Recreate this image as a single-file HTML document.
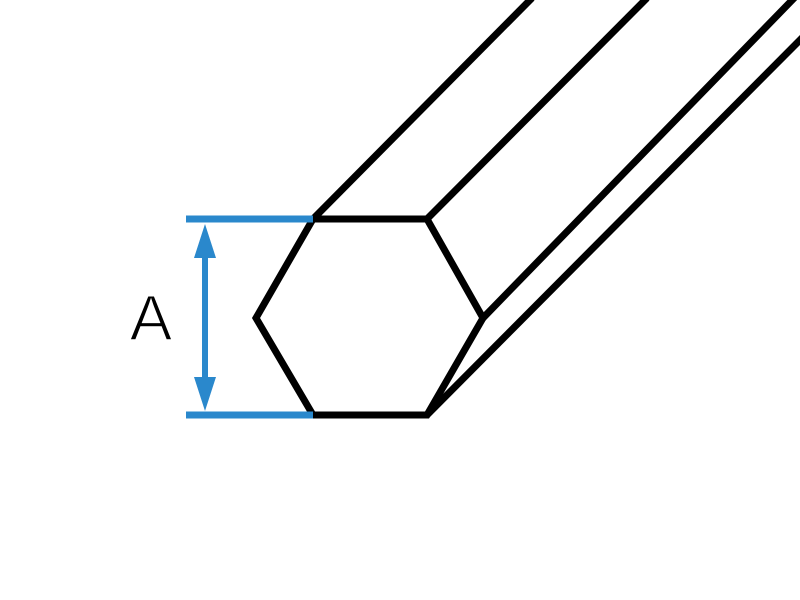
<!DOCTYPE html>
<html><head><style>html,body{margin:0;padding:0;background:#fff;width:800px;height:600px;overflow:hidden}</style></head>
<body>
<svg width="800" height="600" viewBox="0 0 800 600" xmlns="http://www.w3.org/2000/svg">
<g stroke="#000" stroke-width="7" fill="none" stroke-linejoin="miter">
<polygon points="313,219 427,219 483,318 427,415 313,415 256,318"/>
<line x1="313" y1="219" x2="532" y2="-2"/>
<line x1="427" y1="219" x2="647" y2="-2"/>
<line x1="483" y1="318" x2="800" y2="-8"/>
<line x1="427" y1="415" x2="803" y2="37"/>
</g>
<g stroke="#2a88cc" stroke-width="7" fill="#2a88cc">
<line x1="186" y1="219" x2="313" y2="219"/>
<line x1="186" y1="415" x2="313" y2="415"/>
<line x1="205" y1="245" x2="205" y2="390" stroke-width="6"/>
<polygon stroke="none" points="205,224 194,258 216,258"/>
<polygon stroke="none" points="205,411 194,377 216,377"/>
</g>
<text x="151" y="340" font-family="Liberation Sans, sans-serif" font-size="64" text-anchor="middle" fill="#000" stroke="#fff" stroke-width="1.6">A</text>
</svg>
</body></html>
